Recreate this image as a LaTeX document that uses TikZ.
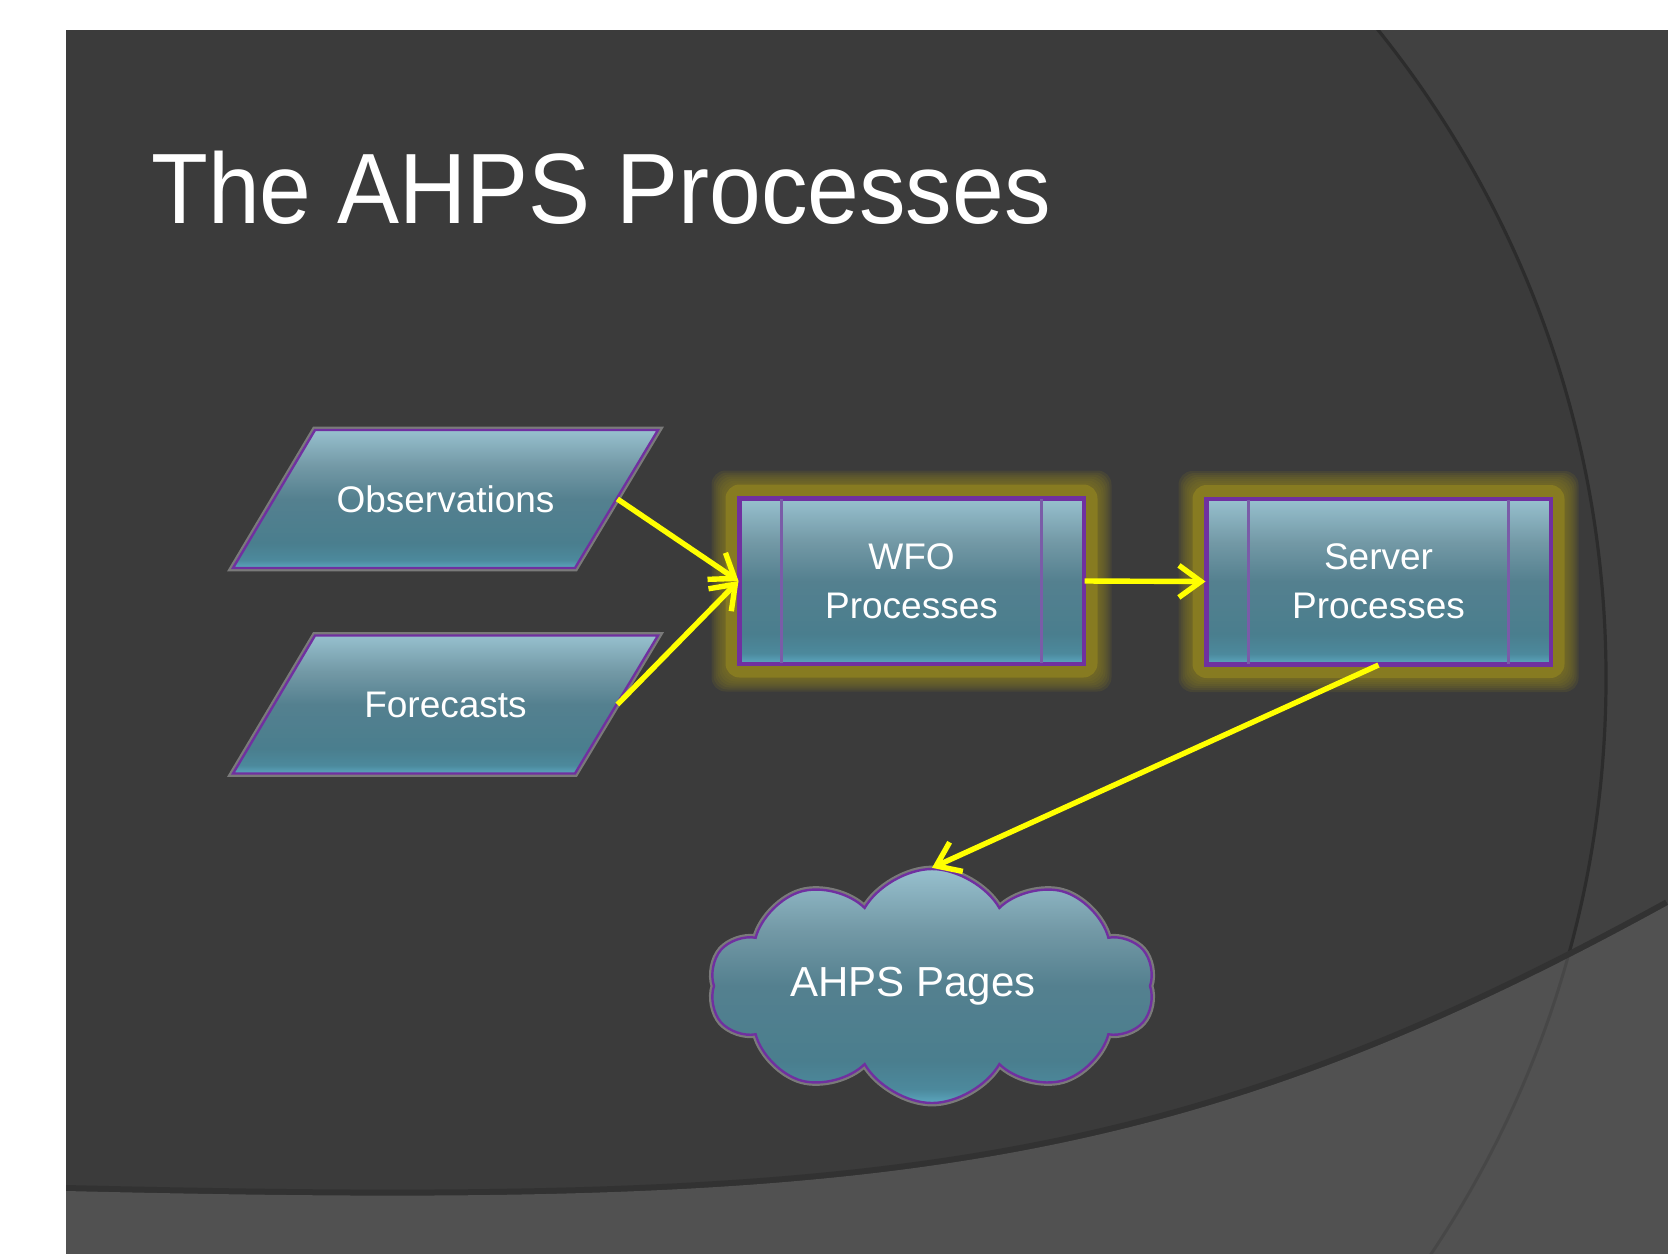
\documentclass[tikz,border=0pt]{standalone}
\usepackage{fontspec}
\setmainfont{Liberation Sans}
\newfontfamily\titlefont[FakeStretch=0.93]{Liberation Sans}
\usetikzlibrary{shapes.symbols,arrows.meta}

\definecolor{bgdark}{HTML}{3B3B3B}
\definecolor{bgright}{HTML}{414141}
\definecolor{bglow}{HTML}{515151}
\definecolor{arcdark}{HTML}{2C2C2C}
\definecolor{curveshadow}{HTML}{323232}
\definecolor{purp}{HTML}{7030A0}
\definecolor{innerpurp}{HTML}{7A5CA8}
\definecolor{outgray}{HTML}{7A7A7A}
\definecolor{glowcol}{RGB}{135,123,33}
\definecolor{sbot}{HTML}{5BA6BF}
\definecolor{s2}{HTML}{4C899C}
\definecolor{s3}{HTML}{4A7E8E}
\definecolor{s4}{HTML}{54808F}
\definecolor{s5}{HTML}{7399A6}
\definecolor{stop}{HTML}{97C0CE}
\definecolor{arrowyellow}{HTML}{FFFF00}

\pgfdeclareverticalshading{pptblue}{100bp}{color(0bp)=(sbot); color(25bp)=(sbot); color(28bp)=(s2); color(34bp)=(s3); color(50bp)=(s4); color(62bp)=(s5); color(75bp)=(stop); color(100bp)=(stop)}

\pgfdeclarelayer{back}
\pgfdeclarelayer{mid}
\pgfsetlayers{back,mid,main}

\tikzset{
  labelfont/.style={text=white, font=\fontsize{18.5pt}{24.5pt}\selectfont},
  paranode/.style={labelfont, minimum width=171.5pt, minimum height=69pt, inner sep=0pt},
  parashape/.style={shade, shading=pptblue, draw=purp, line width=1.2pt, line join=miter,
    preaction={draw=outgray, line width=3.4pt}},
  procbox/.style={labelfont, align=center, minimum width=171.5pt, minimum height=82pt, inner sep=0pt,
    shade, shading=pptblue, draw=purp, line width=1.5pt},
  innerline/.style={draw=innerpurp, line width=1.5pt},
  glowlayer/.style={fill=glowcol, rounded corners=7pt},
  cloudnode/.style={cloud, cloud puffs=10, cloud puff arc=120, cloud ignores aspect,
    minimum width=222pt, minimum height=117pt, inner sep=0pt,
    shade, shading=pptblue, draw=purp, line width=1.2pt,
    preaction={draw=outgray, line width=3.4pt},
    text=white, font=\fontsize{21pt}{25pt}\selectfont},
  flowarrow/.style={draw=arrowyellow, line width=2.7pt,
    -{Straight Barb[length=11pt, width=16pt]}},
}

\begin{document}
\begin{tikzpicture}[x=0.5pt, y=-0.5pt]
\useasboundingbox (0,0) rectangle (1668,1253);

% ---------- background ----------
\begin{pgfonlayer}{back}
  \fill[white] (0,0) rectangle (1668,1253);
  \fill[bgdark] (66,30) rectangle (1668,1253);
  \begin{scope}
    \clip (66,30) rectangle (1668,1253);
    \fill[bgright, even odd rule] (66,30) rectangle (1668,1253) (571,678) circle[radius=1035];
    \draw[arcdark, line width=1.6pt] (571,678) circle[radius=1035];
    \draw[curveshadow, line width=6pt] (66,1191) .. controls (866,1210) and (1168,1180) .. (1668,905);
    \fill[bglow] (66,1191) .. controls (866,1210) and (1168,1180) .. (1668,905)
      -- (1700,905) -- (1700,1300) -- (66,1300) -- cycle;
    \clip (66,1191) .. controls (866,1210) and (1168,1180) .. (1668,905)
      -- (1700,905) -- (1700,1300) -- (66,1300) -- cycle;
    \draw[black, opacity=0.12, line width=1.5pt] (571,678) circle[radius=1035];
  \end{scope}
\end{pgfonlayer}

% ---------- title ----------
\node[anchor=base west, inner sep=0pt, text=white,
      font=\titlefont\fontsize{50pt}{60pt}\selectfont] (title) at (151,223) {The AHPS Processes};

% ---------- nodes ----------
\node[paranode] (obs) at (445.5,499) {Observations};
\node[paranode] (fc) at (445.5,704.5) {Forecasts};
\node[procbox] (wfo) at (911.5,581) {WFO\\Processes};
\node[procbox] (srv) at (1378.5,581.5) {Server\\Processes};
\node[cloudnode] (pages) at (932,986) {AHPS Pages\kern19pt};

% ---------- shapes under the labels ----------
\begin{pgfonlayer}{mid}
  \foreach \n in {obs,fc}{
    \path[parashape] ([shift={(-130.5,-69)}]\n.center) -- ([shift={(212.5,-69)}]\n.center)
      -- ([shift={(129.5,69)}]\n.center) -- ([shift={(-212.5,69)}]\n.center) -- cycle;
  }
  \foreach \n in {wfo,srv}{
    \foreach \d in {27,25,23,21,19,17,15}{
      \fill[glowlayer, opacity=0.16] ([shift={(-\d,-\d)}]\n.north west) rectangle ([shift={(\d,\d)}]\n.south east);
    }
    \fill[glowlayer] ([shift={(-13,-13)}]\n.north west) rectangle ([shift={(13,13)}]\n.south east);
  }
\end{pgfonlayer}

% inner bars of the process boxes
\foreach \n in {wfo,srv}{
  \draw[innerline] ([xshift=21.5pt]\n.north west) -- ([xshift=21.5pt]\n.south west);
  \draw[innerline] ([xshift=-21.5pt]\n.north east) -- ([xshift=-21.5pt]\n.south east);
  \draw[draw=purp, line width=1.5pt] (\n.north west) rectangle (\n.south east);
}

% ---------- connectors ----------
\draw[flowarrow] (obs.east) -- (wfo.west);
\draw[flowarrow] (fc.east) -- (wfo.west);
\draw[flowarrow] (wfo.east) -- (srv.west);
\draw[flowarrow] (srv.south) -- (pages.north);
\end{tikzpicture}
\end{document}
